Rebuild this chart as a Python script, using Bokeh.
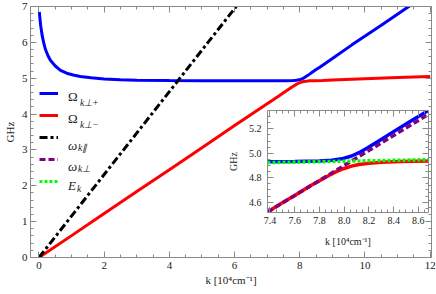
import math
from bokeh.plotting import figure
from bokeh.models import (Range1d, LinearAxis, SingleIntervalTicker, Legend, LegendItem,
                          Label, PrintfTickFormatter, CustomJSTickFormatter)
from bokeh.embed import file_html
from bokeh.resources import INLINE

# ---------------- data ----------------
k_plus = [0.01, 0.05, 0.1, 0.15, 0.2, 0.28, 0.35, 0.5, 0.66, 0.85, 1.05, 1.27, 1.6, 2.0,
          2.5, 3.0, 4.0, 5.0, 6.0, 7.0, 7.38, 7.6, 7.8, 7.9, 7.98, 8.06, 8.12, 8.19, 8.28,
          8.38, 8.5, 8.6, 8.68, 9.0, 9.6, 10.5, 11.39, 11.7]
omega_plus = [6.85, 6.48, 6.18, 5.97, 5.80, 5.62, 5.50, 5.34, 5.22, 5.14, 5.09, 5.05, 5.01,
              4.98, 4.955, 4.945, 4.933, 4.928, 4.927, 4.928, 4.93, 4.932, 4.937, 4.944,
              4.955, 4.978, 5.005, 5.045, 5.10, 5.165, 5.24, 5.30, 5.35, 5.55, 5.93, 6.48,
              7.03, 7.22]

k_minus = [0.0, 1.0, 2.0, 3.0, 4.0, 5.0, 6.0, 7.0, 7.38, 7.5, 7.6, 7.72, 7.8, 7.88, 7.94,
           8.0, 8.06, 8.12, 8.2, 8.3, 8.45, 8.7, 9.0, 10.0, 11.0, 12.0]
omega_minus = [0.0, 0.61, 1.23, 1.84, 2.45, 3.06, 3.68, 4.29, 4.52, 4.595, 4.655, 4.73,
               4.775, 4.82, 4.852, 4.876, 4.895, 4.908, 4.918, 4.926, 4.932, 4.938, 4.95,
               4.985, 5.02, 5.05]

k_par = [0.0, 6.05]
omega_par = [0.0, 7.0]

k_perp = [7.38, 8.70]
omega_perp = [4.52, 5.33]

k_E = [7.38, 8.0, 8.70]
E_k = [4.924, 4.935, 4.948]

main_x_ticks = (2, 4)     # interval, minor count
main_y_ticks = (1, 5)
inset_x_ticks = (0.2, 4)
inset_y_ticks = (0.2, 4)
x_label = "k [10\u2074cm\u207b\u00b9]"
y_label = "GHz"
legend_main = ["\u03a9", "\u03a9", "\u03c9", "\u03c9", "E"]
legend_sub = ["k\u22a5+", "k\u22a5\u2212", "k\u2225", "k\u22a5", "k"]

FONT = "Liberation Serif"
AX_COL = "#8a8a8a"
TXT_COL = "#222222"


def add_axes(fig, xt, yt, fs, lab_fs, xfmt=None, yfmt=None, x_std=4, y_std=4,
             xl_std=1, yl_std=7):
    for place in ["below", "left", "above", "right"]:
        horiz = place in ("below", "above")
        iv, nm = xt if horiz else yt
        ax = LinearAxis(ticker=SingleIntervalTicker(interval=iv, num_minor_ticks=nm))
        ax.axis_line_color = AX_COL
        ax.major_tick_line_color = AX_COL
        ax.minor_tick_line_color = AX_COL
        ax.major_tick_in = 6
        ax.major_tick_out = 0
        ax.minor_tick_in = 3
        ax.minor_tick_out = 0
        ax.major_label_text_font = FONT
        ax.major_label_text_color = TXT_COL
        ax.major_label_text_font_size = fs
        ax.axis_label_text_font = FONT
        ax.axis_label_text_font_style = "normal"
        ax.axis_label_text_color = TXT_COL
        ax.axis_label_text_font_size = lab_fs
        if place == "below":
            ax.axis_label = x_label
            ax.major_label_standoff = x_std
            ax.axis_label_standoff = xl_std
            if xfmt:
                ax.formatter = PrintfTickFormatter(format=xfmt)
        elif place == "left":
            ax.axis_label = y_label
            ax.major_label_standoff = y_std
            ax.axis_label_standoff = yl_std
            if yfmt:
                ax.formatter = PrintfTickFormatter(format=yfmt)
        else:
            ax.formatter = CustomJSTickFormatter(code="return ''")
            ax.major_label_standoff = 0
        fig.add_layout(ax, place)


# ---------------- main figure (frame on page: x 30..431, y 6..257) ----------------
p = figure(width=436, height=294, x_range=Range1d(-0.26, 12.04), y_range=Range1d(0, 7),
           output_backend="svg", toolbar_location=None, x_axis_type=None, y_axis_type=None,
           min_border_left=30, min_border_right=5, min_border_top=6, min_border_bottom=37,
           title=None)
p.outline_line_color = None
add_axes(p, main_x_ticks, main_y_ticks, "11px", "11px", x_std=4, y_std=3, xl_std=2,
         yl_std=3)

r_plus = p.line(k_plus, omega_plus, line_color="#0000ff", line_width=3)
r_minus = p.line(k_minus, omega_minus, line_color="#ff0000", line_width=3)
r_par = p.line(k_par, omega_par, line_color="black", line_width=3, line_dash="8 3 3 3")
r_perp = p.line(k_perp, omega_perp, line_color="#800080", line_width=3, line_dash="6 3",
                visible=False)
r_E = p.line(k_E, E_k, line_color="#00ff00", line_width=3, line_dash="3 2", visible=False)

legend = Legend(items=[LegendItem(label=" ", renderers=[r]) for r in
                       [r_plus, r_minus, r_par, r_perp, r_E]],
                location=(9, 65), orientation="vertical", glyph_width=19, glyph_height=22,
                label_height=22, label_width=10, spacing=0, padding=0, margin=0,
                label_standoff=0, border_line_color=None, background_fill_alpha=0,
                inactive_fill_alpha=0, label_text_font_size="8px")
p.add_layout(legend)

# legend texts, in pixels from the frame's bottom-left corner
main_x = [37.5] * 5
main_y = [161, 139, 112, 91, 71.7]
sub_x = [49.5, 49.5, 47.5, 47.5, 46.5]
sub_y = [155, 133, 110, 89, 69]
styles = ["normal", "normal", "italic", "italic", "italic"]
for i in range(5):
    p.add_layout(Label(x=main_x[i], y=main_y[i], x_units="screen", y_units="screen",
                       text=legend_main[i], text_font=FONT, text_font_style=styles[i],
                       text_font_size="13px", text_color=TXT_COL, text_baseline="alphabetic"))
    p.add_layout(Label(x=sub_x[i], y=sub_y[i], x_units="screen", y_units="screen",
                       text=legend_sub[i], text_font=FONT, text_font_style="italic",
                       text_font_size="9.5px", text_color=TXT_COL,
                       text_baseline="alphabetic"))

# ---------------- inset figure (frame on page: x 264..428, y 110..212) ----------------
q = figure(width=208, height=146, x_range=Range1d(7.38, 8.682), y_range=Range1d(4.516, 5.35),
           output_backend="svg", toolbar_location=None, x_axis_type=None, y_axis_type=None,
           min_border_left=40, min_border_right=4, min_border_top=4, min_border_bottom=40,
           title=None)
q.outline_line_color = None
q.border_fill_alpha = 0
q.background_fill_color = "white"
add_axes(q, inset_x_ticks, inset_y_ticks, "10px", "10px", xfmt="%.1f", yfmt="%.1f",
         x_std=4, y_std=6, xl_std=9, yl_std=7)

q.line(k_plus, omega_plus, line_color="#0000ff", line_width=3.5)
q.line(k_minus, omega_minus, line_color="#ff0000", line_width=3.5)
q.line(k_perp, omega_perp, line_color="#800080", line_width=3.5, line_dash="6 3")
q.line(k_E, E_k, line_color="#00ff00", line_width=3.5, line_dash="3 2")

q.styles = {"position": "absolute", "left": "224px", "top": "106px", "z-index": "10"}

open("out.html", "w").write(file_html([p, q], INLINE))
